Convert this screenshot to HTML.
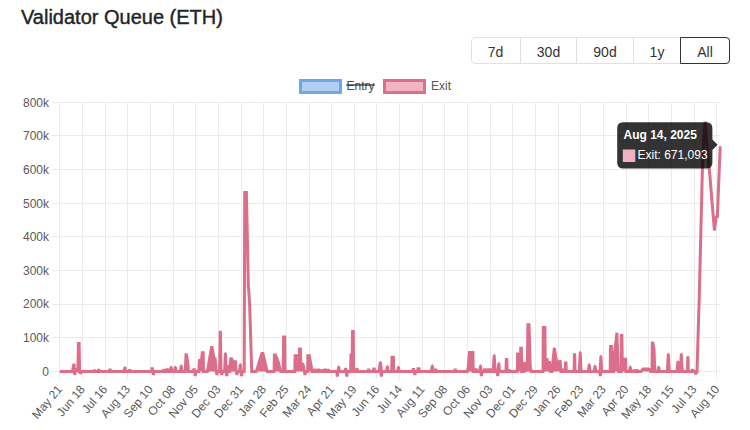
<!DOCTYPE html>
<html><head><meta charset="utf-8"><style>
html,body{margin:0;padding:0;background:#fff;width:750px;height:430px;overflow:hidden;font-family:"Liberation Sans",sans-serif;}
.title{position:absolute;left:21px;top:5.5px;font-size:20px;font-weight:normal;-webkit-text-stroke:0.4px #212529;color:#212529;white-space:nowrap;}
.bg{position:absolute;left:471px;top:37px;width:257px;height:25px;border:1px solid #dee2e6;border-radius:4px;}
.dv{position:absolute;top:38px;width:1px;height:25px;background:#dee2e6;}
.all{position:absolute;left:680px;top:37px;width:48px;height:25px;border:1px solid #333;border-radius:0 4px 4px 0;}
.bt{position:absolute;top:40px;height:25px;line-height:25px;font-size:14px;color:#333;text-align:center;}
.leg{position:absolute;top:0;left:0;}
svg{position:absolute;left:0;top:0;}
.t{font-family:"Liberation Sans",sans-serif;font-size:12px;fill:#5a5a5a;}
.tt{font-family:"Liberation Sans",sans-serif;font-size:12px;fill:#fff;}
</style></head><body>
<div class="title">Validator Queue (ETH)</div>
<div class="bg"></div>
<div class="dv" style="left:520px"></div>
<div class="dv" style="left:576px"></div>
<div class="dv" style="left:633px"></div>
<div class="all"></div>
<div class="bt" style="left:471px;width:49px">7d</div>
<div class="bt" style="left:521px;width:55px">30d</div>
<div class="bt" style="left:577px;width:56px">90d</div>
<div class="bt" style="left:634px;width:46px">1y</div>
<div class="bt" style="left:681px;width:48px">All</div>
<svg width="750" height="430" viewBox="0 0 750 430">
<rect x="300.5" y="80.5" width="40" height="12" fill="#b2cff2" stroke="#70a6e4" stroke-width="3"/>
<text x="346.5" y="86.2" class="t" dominant-baseline="central" style="fill:#4a4a4a">Entry</text>
<line x1="346.3" y1="85" x2="374.7" y2="85" stroke="#333" stroke-width="1.3"/>
<rect x="384.5" y="80.5" width="40" height="12" fill="#f0b4c3" stroke="#db708a" stroke-width="3"/>
<text x="431" y="86" class="t" dominant-baseline="central" style="fill:#555">Exit</text>
<line x1="52" y1="102.5" x2="720.2" y2="102.5" stroke="#ebebeb" stroke-width="1"/><text x="49" y="102.7" text-anchor="end" dominant-baseline="central" class="t">800k</text><line x1="52" y1="135.5" x2="720.2" y2="135.5" stroke="#ebebeb" stroke-width="1"/><text x="49" y="136.3" text-anchor="end" dominant-baseline="central" class="t">700k</text><line x1="52" y1="169.5" x2="720.2" y2="169.5" stroke="#ebebeb" stroke-width="1"/><text x="49" y="170.0" text-anchor="end" dominant-baseline="central" class="t">600k</text><line x1="52" y1="203.5" x2="720.2" y2="203.5" stroke="#ebebeb" stroke-width="1"/><text x="49" y="203.6" text-anchor="end" dominant-baseline="central" class="t">500k</text><line x1="52" y1="236.5" x2="720.2" y2="236.5" stroke="#ebebeb" stroke-width="1"/><text x="49" y="237.2" text-anchor="end" dominant-baseline="central" class="t">400k</text><line x1="52" y1="270.5" x2="720.2" y2="270.5" stroke="#ebebeb" stroke-width="1"/><text x="49" y="270.8" text-anchor="end" dominant-baseline="central" class="t">300k</text><line x1="52" y1="304.5" x2="720.2" y2="304.5" stroke="#ebebeb" stroke-width="1"/><text x="49" y="304.4" text-anchor="end" dominant-baseline="central" class="t">200k</text><line x1="52" y1="337.5" x2="720.2" y2="337.5" stroke="#ebebeb" stroke-width="1"/><text x="49" y="338.1" text-anchor="end" dominant-baseline="central" class="t">100k</text><line x1="52" y1="371.5" x2="720.2" y2="371.5" stroke="#ebebeb" stroke-width="1"/><text x="49" y="371.7" text-anchor="end" dominant-baseline="central" class="t">0</text><line x1="59.5" y1="102.3" x2="59.5" y2="379.5" stroke="#ebebeb" stroke-width="1"/><text x="59.7" y="387" text-anchor="end" dominant-baseline="central" class="t" transform="rotate(-50 59.7 387)">May 21</text><line x1="82.5" y1="102.3" x2="82.5" y2="379.5" stroke="#ebebeb" stroke-width="1"/><text x="82.4" y="387" text-anchor="end" dominant-baseline="central" class="t" transform="rotate(-50 82.4 387)">Jun 18</text><line x1="105.5" y1="102.3" x2="105.5" y2="379.5" stroke="#ebebeb" stroke-width="1"/><text x="105.0" y="387" text-anchor="end" dominant-baseline="central" class="t" transform="rotate(-50 105.0 387)">Jul 16</text><line x1="127.5" y1="102.3" x2="127.5" y2="379.5" stroke="#ebebeb" stroke-width="1"/><text x="127.7" y="387" text-anchor="end" dominant-baseline="central" class="t" transform="rotate(-50 127.7 387)">Aug 13</text><line x1="150.5" y1="102.3" x2="150.5" y2="379.5" stroke="#ebebeb" stroke-width="1"/><text x="150.4" y="387" text-anchor="end" dominant-baseline="central" class="t" transform="rotate(-50 150.4 387)">Sep 10</text><line x1="173.5" y1="102.3" x2="173.5" y2="379.5" stroke="#ebebeb" stroke-width="1"/><text x="173.0" y="387" text-anchor="end" dominant-baseline="central" class="t" transform="rotate(-50 173.0 387)">Oct 08</text><line x1="195.5" y1="102.3" x2="195.5" y2="379.5" stroke="#ebebeb" stroke-width="1"/><text x="195.7" y="387" text-anchor="end" dominant-baseline="central" class="t" transform="rotate(-50 195.7 387)">Nov 05</text><line x1="218.5" y1="102.3" x2="218.5" y2="379.5" stroke="#ebebeb" stroke-width="1"/><text x="218.3" y="387" text-anchor="end" dominant-baseline="central" class="t" transform="rotate(-50 218.3 387)">Dec 03</text><line x1="241.5" y1="102.3" x2="241.5" y2="379.5" stroke="#ebebeb" stroke-width="1"/><text x="241.0" y="387" text-anchor="end" dominant-baseline="central" class="t" transform="rotate(-50 241.0 387)">Dec 31</text><line x1="263.5" y1="102.3" x2="263.5" y2="379.5" stroke="#ebebeb" stroke-width="1"/><text x="263.7" y="387" text-anchor="end" dominant-baseline="central" class="t" transform="rotate(-50 263.7 387)">Jan 28</text><line x1="286.5" y1="102.3" x2="286.5" y2="379.5" stroke="#ebebeb" stroke-width="1"/><text x="286.3" y="387" text-anchor="end" dominant-baseline="central" class="t" transform="rotate(-50 286.3 387)">Feb 25</text><line x1="309.5" y1="102.3" x2="309.5" y2="379.5" stroke="#ebebeb" stroke-width="1"/><text x="309.0" y="387" text-anchor="end" dominant-baseline="central" class="t" transform="rotate(-50 309.0 387)">Mar 24</text><line x1="331.5" y1="102.3" x2="331.5" y2="379.5" stroke="#ebebeb" stroke-width="1"/><text x="331.7" y="387" text-anchor="end" dominant-baseline="central" class="t" transform="rotate(-50 331.7 387)">Apr 21</text><line x1="354.5" y1="102.3" x2="354.5" y2="379.5" stroke="#ebebeb" stroke-width="1"/><text x="354.3" y="387" text-anchor="end" dominant-baseline="central" class="t" transform="rotate(-50 354.3 387)">May 19</text><line x1="376.5" y1="102.3" x2="376.5" y2="379.5" stroke="#ebebeb" stroke-width="1"/><text x="377.0" y="387" text-anchor="end" dominant-baseline="central" class="t" transform="rotate(-50 377.0 387)">Jun 16</text><line x1="399.5" y1="102.3" x2="399.5" y2="379.5" stroke="#ebebeb" stroke-width="1"/><text x="399.7" y="387" text-anchor="end" dominant-baseline="central" class="t" transform="rotate(-50 399.7 387)">Jul 14</text><line x1="422.5" y1="102.3" x2="422.5" y2="379.5" stroke="#ebebeb" stroke-width="1"/><text x="422.3" y="387" text-anchor="end" dominant-baseline="central" class="t" transform="rotate(-50 422.3 387)">Aug 11</text><line x1="444.5" y1="102.3" x2="444.5" y2="379.5" stroke="#ebebeb" stroke-width="1"/><text x="445.0" y="387" text-anchor="end" dominant-baseline="central" class="t" transform="rotate(-50 445.0 387)">Sep 08</text><line x1="467.5" y1="102.3" x2="467.5" y2="379.5" stroke="#ebebeb" stroke-width="1"/><text x="467.7" y="387" text-anchor="end" dominant-baseline="central" class="t" transform="rotate(-50 467.7 387)">Oct 06</text><line x1="490.5" y1="102.3" x2="490.5" y2="379.5" stroke="#ebebeb" stroke-width="1"/><text x="490.3" y="387" text-anchor="end" dominant-baseline="central" class="t" transform="rotate(-50 490.3 387)">Nov 03</text><line x1="512.5" y1="102.3" x2="512.5" y2="379.5" stroke="#ebebeb" stroke-width="1"/><text x="513.0" y="387" text-anchor="end" dominant-baseline="central" class="t" transform="rotate(-50 513.0 387)">Dec 01</text><line x1="535.5" y1="102.3" x2="535.5" y2="379.5" stroke="#ebebeb" stroke-width="1"/><text x="535.6" y="387" text-anchor="end" dominant-baseline="central" class="t" transform="rotate(-50 535.6 387)">Dec 29</text><line x1="558.5" y1="102.3" x2="558.5" y2="379.5" stroke="#ebebeb" stroke-width="1"/><text x="558.3" y="387" text-anchor="end" dominant-baseline="central" class="t" transform="rotate(-50 558.3 387)">Jan 26</text><line x1="580.5" y1="102.3" x2="580.5" y2="379.5" stroke="#ebebeb" stroke-width="1"/><text x="581.0" y="387" text-anchor="end" dominant-baseline="central" class="t" transform="rotate(-50 581.0 387)">Feb 23</text><line x1="603.5" y1="102.3" x2="603.5" y2="379.5" stroke="#ebebeb" stroke-width="1"/><text x="603.6" y="387" text-anchor="end" dominant-baseline="central" class="t" transform="rotate(-50 603.6 387)">Mar 23</text><line x1="626.5" y1="102.3" x2="626.5" y2="379.5" stroke="#ebebeb" stroke-width="1"/><text x="626.3" y="387" text-anchor="end" dominant-baseline="central" class="t" transform="rotate(-50 626.3 387)">Apr 20</text><line x1="648.5" y1="102.3" x2="648.5" y2="379.5" stroke="#ebebeb" stroke-width="1"/><text x="649.0" y="387" text-anchor="end" dominant-baseline="central" class="t" transform="rotate(-50 649.0 387)">May 18</text><line x1="671.5" y1="102.3" x2="671.5" y2="379.5" stroke="#ebebeb" stroke-width="1"/><text x="671.6" y="387" text-anchor="end" dominant-baseline="central" class="t" transform="rotate(-50 671.6 387)">Jun 15</text><line x1="694.5" y1="102.3" x2="694.5" y2="379.5" stroke="#ebebeb" stroke-width="1"/><text x="694.3" y="387" text-anchor="end" dominant-baseline="central" class="t" transform="rotate(-50 694.3 387)">Jul 13</text><line x1="716.5" y1="102.3" x2="716.5" y2="379.5" stroke="#ebebeb" stroke-width="1"/><text x="717.0" y="387" text-anchor="end" dominant-baseline="central" class="t" transform="rotate(-50 717.0 387)">Aug 10</text><path d="M59.70,371.6 L59.70,371.60 L72.30,371.60 L74.00,363.70 L74.70,371.60 L75.60,369.00 L77.90,371.60 L78.40,343.40 L79.10,343.40 L79.60,371.60 L80.10,371.60 L80.60,371.60 L81.10,371.60 L93.70,371.60 L94.50,370.00 L95.30,371.60 L97.90,371.60 L98.70,369.30 L99.50,371.60 L109.20,371.60 L110.00,369.00 L110.80,371.60 L124.10,371.60 L124.90,367.50 L125.70,371.60 L128.90,371.60 L129.70,369.70 L130.50,371.60 L151.40,371.60 L152.20,367.60 L153.00,371.60 L153.00,371.60 L153.50,371.60 L154.00,371.60 L163.30,371.60 L164.10,369.10 L164.90,371.60 L166.50,371.60 L167.30,368.60 L168.10,371.60 L170.30,371.60 L171.10,367.00 L171.90,371.60 L174.50,371.60 L175.30,367.00 L176.10,371.60 L180.40,371.60 L181.20,365.80 L182.00,371.60 L185.20,371.60 L186.10,353.40 L187.70,362.00 L188.50,371.60 L193.20,371.60 L194.00,368.60 L194.80,371.60 L194.80,371.60 L195.30,371.60 L195.80,371.60 L198.80,371.60 L199.40,360.40 L201.50,360.40 L202.30,352.70 L203.20,352.70 L203.50,371.60 L207.40,371.60 L211.50,347.60 L212.00,347.60 L214.20,359.00 L215.20,359.00 L216.20,371.60 L216.40,371.60 L216.90,371.60 L217.40,371.60 L219.60,371.60 L220.20,332.30 L220.40,332.30 L221.00,371.60 L221.30,371.60 L221.80,371.60 L222.30,371.60 L224.60,371.60 L225.40,353.40 L226.20,371.60 L226.30,371.60 L226.80,371.60 L227.30,371.60 L227.70,371.60 L228.50,366.00 L229.30,371.60 L229.80,371.60 L230.80,357.80 L233.30,361.70 L235.40,361.70 L236.20,371.60 L236.50,371.60 L237.00,371.60 L237.50,371.60 L239.50,371.60 L240.30,364.60 L241.10,371.60 L241.10,371.60 L241.60,371.60 L242.10,371.60 L242.10,371.6 Z M256.30,371.6 L256.30,371.60 L261.90,353.40 L262.90,353.40 L267.20,371.60 L274.10,371.60 L274.40,354.90 L275.50,354.90 L278.20,362.00 L280.80,371.60 L283.30,371.60 L283.60,337.00 L284.70,337.00 L285.00,371.60 L294.80,371.60 L295.10,355.70 L299.50,355.70 L299.50,348.90 L300.40,348.90 L300.70,363.00 L303.00,364.50 L304.40,371.60 L304.50,371.60 L305.00,371.60 L305.50,371.60 L307.60,371.60 L307.90,355.70 L309.30,355.70 L312.10,371.60 L314.20,371.60 L315.00,369.00 L315.80,371.60 L317.70,371.60 L318.50,369.00 L319.30,371.60 L321.20,371.60 L322.00,369.50 L322.80,371.60 L324.20,371.60 L325.00,369.00 L325.80,371.60 L327.40,371.60 L328.20,369.20 L329.00,371.60 L336.80,371.60 L337.30,371.60 L337.80,371.60 L337.90,371.60 L338.70,366.80 L339.50,371.60 L344.90,371.60 L345.70,368.00 L346.50,371.60 L346.30,371.60 L346.80,371.60 L347.30,371.60 L350.60,371.60 L351.00,355.00 L352.20,355.00 L352.50,331.50 L353.30,331.50 L353.60,371.60 L356.10,371.60 L356.90,368.00 L357.70,371.60 L367.90,371.60 L368.70,369.00 L369.50,371.60 L373.20,371.60 L374.00,367.80 L374.80,371.60 L379.10,371.60 L380.30,362.30 L381.50,371.60 L380.80,371.60 L381.30,371.60 L381.80,371.60 L386.50,371.60 L387.30,366.60 L388.10,371.60 L391.70,371.60 L392.00,357.30 L393.40,357.30 L393.70,371.60 L397.60,371.60 L398.40,367.00 L399.20,371.60 L412.60,371.60 L413.40,368.40 L414.20,371.60 L414.40,371.60 L414.90,371.60 L415.40,371.60 L417.50,371.60 L418.00,368.70 L419.00,368.70 L419.50,371.60 L431.30,371.60 L432.30,365.80 L433.30,371.60 L435.00,371.60 L435.80,369.00 L436.60,371.60 L454.40,371.60 L455.20,369.00 L456.00,371.60 L467.40,371.60 L468.20,367.00 L469.50,352.40 L472.90,352.40 L473.20,371.60 L475.40,371.60 L476.20,368.50 L477.00,371.60 L479.70,371.60 L480.50,365.80 L481.30,371.60 L480.90,371.60 L481.40,371.60 L481.90,371.60 L484.10,371.60 L484.90,368.50 L485.70,371.60 L487.60,371.60 L488.40,368.50 L489.20,371.60 L489.30,371.60 L490.10,368.50 L490.90,371.60 L493.20,371.60 L494.20,355.30 L495.20,371.60 L497.20,371.60 L497.70,371.60 L498.20,371.60 L498.00,371.60 L498.80,363.30 L499.60,371.60 L506.00,371.60 L506.30,359.50 L506.80,359.50 L507.10,371.60 L508.00,371.60 L508.80,369.50 L509.60,371.60 L517.30,371.60 L517.60,354.00 L520.70,354.00 L520.70,348.20 L521.40,348.20 L521.70,371.60 L523.80,371.60 L524.50,362.00 L525.30,371.60 L527.40,362.00 L527.90,324.80 L529.00,324.80 L530.20,366.00 L531.20,371.60 L543.00,371.60 L543.30,327.40 L544.90,327.40 L545.20,359.40 L547.00,359.40 L547.50,366.00 L549.40,361.20 L550.50,371.60 L552.00,371.60 L554.30,347.80 L556.60,362.00 L557.80,362.00 L558.50,368.00 L560.10,360.00 L561.00,371.60 L561.70,371.60 L562.50,369.00 L563.30,371.60 L565.20,371.60 L565.50,362.90 L566.00,362.90 L566.30,371.60 L574.10,371.60 L574.40,354.80 L574.70,354.80 L575.00,371.60 L579.30,371.60 L580.20,352.40 L581.10,371.60 L588.40,371.60 L589.20,364.60 L590.00,371.60 L594.20,371.60 L595.00,366.00 L595.80,371.60 L599.80,371.60 L600.30,371.60 L600.80,371.60 L600.10,371.60 L600.90,356.40 L601.70,371.60 L610.20,371.60 L610.50,346.60 L611.70,346.60 L612.00,371.60 L613.60,371.60 L614.50,355.00 L616.90,332.70 L618.20,368.00 L618.70,371.60 L621.20,371.60 L621.40,335.50 L621.90,335.50 L622.20,359.20 L625.60,359.20 L625.90,371.60 L629.40,371.60 L630.20,366.90 L631.00,371.60 L633.20,371.60 L634.00,370.00 L634.80,371.60 L636.20,371.60 L637.00,369.50 L637.80,371.60 L641.00,371.60 L643.00,369.00 L648.00,369.00 L649.70,369.50 L650.50,371.60 L652.00,371.60 L652.30,343.10 L652.80,343.10 L654.00,348.90 L654.80,371.60 L657.90,371.60 L658.70,367.00 L659.50,371.60 L667.30,371.60 L668.30,354.20 L669.30,371.60 L677.00,371.60 L677.90,361.70 L678.80,371.60 L680.40,371.60 L681.30,354.20 L682.20,371.60 L687.50,371.60 L687.80,357.70 L688.00,357.70 L688.30,371.60 L691.60,371.60 L692.40,369.20 L693.20,371.60 L695.30,371.60 L695.80,371.60 L696.30,371.60 L696.30,371.6 Z" fill="#dc6e8b" stroke="none"/><path d="M59.70,371.60 L72.30,371.60 L74.00,363.70 L74.70,375.00 L75.60,369.00 L77.90,371.60 L78.40,343.40 L79.10,343.40 L79.60,371.60 L80.10,371.60 L80.60,374.00 L81.10,371.60 L93.70,371.60 L94.50,370.00 L95.30,371.60 L97.90,371.60 L98.70,369.30 L99.50,371.60 L109.20,371.60 L110.00,369.00 L110.80,371.60 L124.10,371.60 L124.90,367.50 L125.70,371.60 L128.90,371.60 L129.70,369.70 L130.50,371.60 L151.40,371.60 L152.20,367.60 L153.00,371.60 L153.00,371.60 L153.50,375.00 L154.00,371.60 L163.30,371.60 L164.10,369.10 L164.90,371.60 L166.50,371.60 L167.30,368.60 L168.10,371.60 L170.30,371.60 L171.10,367.00 L171.90,371.60 L174.50,371.60 L175.30,367.00 L176.10,371.60 L180.40,371.60 L181.20,365.80 L182.00,371.60 L185.20,371.60 L186.10,353.40 L187.70,362.00 L188.50,371.60 L193.20,371.60 L194.00,368.60 L194.80,371.60 L194.80,371.60 L195.30,376.00 L195.80,371.60 L198.80,371.60 L199.40,360.40 L201.50,360.40 L202.30,352.70 L203.20,352.70 L203.50,371.60 L207.40,371.60 L211.50,347.60 L212.00,347.60 L214.20,359.00 L215.20,359.00 L216.20,371.60 L216.40,371.60 L216.90,375.00 L217.40,371.60 L219.60,371.60 L220.20,332.30 L220.40,332.30 L221.00,371.60 L221.30,371.60 L221.80,375.00 L222.30,371.60 L224.60,371.60 L225.40,353.40 L226.20,371.60 L226.30,371.60 L226.80,376.00 L227.30,371.60 L227.70,371.60 L228.50,366.00 L229.30,371.60 L229.80,371.60 L230.80,357.80 L233.30,361.70 L235.40,361.70 L236.20,371.60 L236.50,371.60 L237.00,375.00 L237.50,371.60 L239.50,371.60 L240.30,364.60 L241.10,371.60 L241.10,371.60 L241.60,376.00 L242.10,371.60 L244.20,371.60 L244.70,192.40 L246.40,192.40 L248.30,285.00 L249.60,303.00 L250.30,325.00 L251.70,371.60 L256.30,371.60 L261.90,353.40 L262.90,353.40 L267.20,371.60 L274.10,371.60 L274.40,354.90 L275.50,354.90 L278.20,362.00 L280.80,371.60 L283.30,371.60 L283.60,337.00 L284.70,337.00 L285.00,371.60 L294.80,371.60 L295.10,355.70 L299.50,355.70 L299.50,348.90 L300.40,348.90 L300.70,363.00 L303.00,364.50 L304.40,371.60 L304.50,371.60 L305.00,375.00 L305.50,371.60 L307.60,371.60 L307.90,355.70 L309.30,355.70 L312.10,371.60 L314.20,371.60 L315.00,369.00 L315.80,371.60 L317.70,371.60 L318.50,369.00 L319.30,371.60 L321.20,371.60 L322.00,369.50 L322.80,371.60 L324.20,371.60 L325.00,369.00 L325.80,371.60 L327.40,371.60 L328.20,369.20 L329.00,371.60 L336.80,371.60 L337.30,376.50 L337.80,371.60 L337.90,371.60 L338.70,366.80 L339.50,371.60 L344.90,371.60 L345.70,368.00 L346.50,371.60 L346.30,371.60 L346.80,376.50 L347.30,371.60 L350.60,371.60 L351.00,355.00 L352.20,355.00 L352.50,331.50 L353.30,331.50 L353.60,371.60 L356.10,371.60 L356.90,368.00 L357.70,371.60 L367.90,371.60 L368.70,369.00 L369.50,371.60 L373.20,371.60 L374.00,367.80 L374.80,371.60 L379.10,371.60 L380.30,362.30 L381.50,371.60 L380.80,371.60 L381.30,376.50 L381.80,371.60 L386.50,371.60 L387.30,366.60 L388.10,371.60 L391.70,371.60 L392.00,357.30 L393.40,357.30 L393.70,371.60 L397.60,371.60 L398.40,367.00 L399.20,371.60 L412.60,371.60 L413.40,368.40 L414.20,371.60 L414.40,371.60 L414.90,375.00 L415.40,371.60 L417.50,371.60 L418.00,368.70 L419.00,368.70 L419.50,371.60 L431.30,371.60 L432.30,365.80 L433.30,371.60 L435.00,371.60 L435.80,369.00 L436.60,371.60 L454.40,371.60 L455.20,369.00 L456.00,371.60 L467.40,371.60 L468.20,367.00 L469.50,352.40 L472.90,352.40 L473.20,371.60 L475.40,371.60 L476.20,368.50 L477.00,371.60 L479.70,371.60 L480.50,365.80 L481.30,371.60 L480.90,371.60 L481.40,376.00 L481.90,371.60 L484.10,371.60 L484.90,368.50 L485.70,371.60 L487.60,371.60 L488.40,368.50 L489.20,371.60 L489.30,371.60 L490.10,368.50 L490.90,371.60 L493.20,371.60 L494.20,355.30 L495.20,371.60 L497.20,371.60 L497.70,376.00 L498.20,371.60 L498.00,371.60 L498.80,363.30 L499.60,371.60 L506.00,371.60 L506.30,359.50 L506.80,359.50 L507.10,371.60 L508.00,371.60 L508.80,369.50 L509.60,371.60 L517.30,371.60 L517.60,354.00 L520.70,354.00 L520.70,348.20 L521.40,348.20 L521.70,371.60 L523.80,371.60 L524.50,362.00 L525.30,371.60 L527.40,362.00 L527.90,324.80 L529.00,324.80 L530.20,366.00 L531.20,371.60 L543.00,371.60 L543.30,327.40 L544.90,327.40 L545.20,359.40 L547.00,359.40 L547.50,366.00 L549.40,361.20 L550.50,371.60 L552.00,371.60 L554.30,347.80 L556.60,362.00 L557.80,362.00 L558.50,368.00 L560.10,360.00 L561.00,371.60 L561.70,371.60 L562.50,369.00 L563.30,371.60 L565.20,371.60 L565.50,362.90 L566.00,362.90 L566.30,371.60 L574.10,371.60 L574.40,354.80 L574.70,354.80 L575.00,371.60 L579.30,371.60 L580.20,352.40 L581.10,371.60 L588.40,371.60 L589.20,364.60 L590.00,371.60 L594.20,371.60 L595.00,366.00 L595.80,371.60 L599.80,371.60 L600.30,376.00 L600.80,371.60 L600.10,371.60 L600.90,356.40 L601.70,371.60 L610.20,371.60 L610.50,346.60 L611.70,346.60 L612.00,371.60 L613.60,371.60 L614.50,355.00 L616.90,332.70 L618.20,368.00 L618.70,371.60 L621.20,371.60 L621.40,335.50 L621.90,335.50 L622.20,359.20 L625.60,359.20 L625.90,371.60 L629.40,371.60 L630.20,366.90 L631.00,371.60 L633.20,371.60 L634.00,370.00 L634.80,371.60 L636.20,371.60 L637.00,369.50 L637.80,371.60 L641.00,371.60 L643.00,369.00 L648.00,369.00 L649.70,369.50 L650.50,371.60 L652.00,371.60 L652.30,343.10 L652.80,343.10 L654.00,348.90 L654.80,371.60 L657.90,371.60 L658.70,367.00 L659.50,371.60 L667.30,371.60 L668.30,354.20 L669.30,371.60 L677.00,371.60 L677.90,361.70 L678.80,371.60 L680.40,371.60 L681.30,354.20 L682.20,371.60 L687.50,371.60 L687.80,357.70 L688.00,357.70 L688.30,371.60 L691.60,371.60 L692.40,369.20 L693.20,371.60 L695.30,371.60 L695.80,374.50 L696.30,371.60 L697.00,371.60 L699.30,295.00 L700.90,230.00 L702.50,165.00 L704.00,135.00 L705.00,123.00 L705.40,123.00 L706.50,140.00 L710.00,177.00 L714.40,230.50 L716.30,216.00 L717.30,218.00 L720.20,146.20" fill="none" stroke="#dc6e8b" stroke-width="3.0" stroke-linejoin="miter" stroke-miterlimit="1.5"/><path d="M123.40,367.90 L124.90,365.70 L126.40,367.90 Z M169.60,367.40 L171.10,365.20 L172.60,367.40 Z M173.80,367.40 L175.30,365.20 L176.80,367.40 Z M179.70,366.20 L181.20,364.00 L182.70,366.20 Z M223.90,353.80 L225.40,351.60 L226.90,353.80 Z M227.00,366.40 L228.50,364.20 L230.00,366.40 Z M238.80,365.00 L240.30,362.80 L241.80,365.00 Z M337.20,367.20 L338.70,365.00 L340.20,367.20 Z M378.80,362.70 L380.30,360.50 L381.80,362.70 Z M385.80,367.00 L387.30,364.80 L388.80,367.00 Z M396.90,367.40 L398.40,365.20 L399.90,367.40 Z M430.80,366.20 L432.30,364.00 L433.80,366.20 Z M479.00,366.20 L480.50,364.00 L482.00,366.20 Z M492.70,355.70 L494.20,353.50 L495.70,355.70 Z M497.30,363.70 L498.80,361.50 L500.30,363.70 Z M578.70,352.80 L580.20,350.60 L581.70,352.80 Z M587.70,365.00 L589.20,362.80 L590.70,365.00 Z M593.50,366.40 L595.00,364.20 L596.50,366.40 Z M599.40,356.80 L600.90,354.60 L602.40,356.80 Z M628.70,367.30 L630.20,365.10 L631.70,367.30 Z M657.20,367.40 L658.70,365.20 L660.20,367.40 Z M666.80,354.60 L668.30,352.40 L669.80,354.60 Z M676.40,362.10 L677.90,359.90 L679.40,362.10 Z M679.80,354.60 L681.30,352.40 L682.80,354.60 Z" fill="#dc6e8b"/>

<g>
<path d="M623.2,122.2 H706.4 Q712.4,122.2 712.4,128.2 V139.6 L717.6,144.8 L712.4,150 V162.6 Q712.4,168.6 706.4,168.6 H623.2 Q617.2,168.6 617.2,162.6 V128.2 Q617.2,122.2 623.2,122.2 Z" fill="rgba(0,0,0,0.8)"/>
<text x="623.5" y="138.7" class="tt" font-weight="bold">Aug 14, 2025</text>
<rect x="622.8" y="149.5" width="12.5" height="12.5" fill="#f2b1c0" stroke="#fff" stroke-width="0"/>
<text x="637.5" y="159" class="tt">Exit: 671,093</text>
</g>
</svg>
</body></html>
